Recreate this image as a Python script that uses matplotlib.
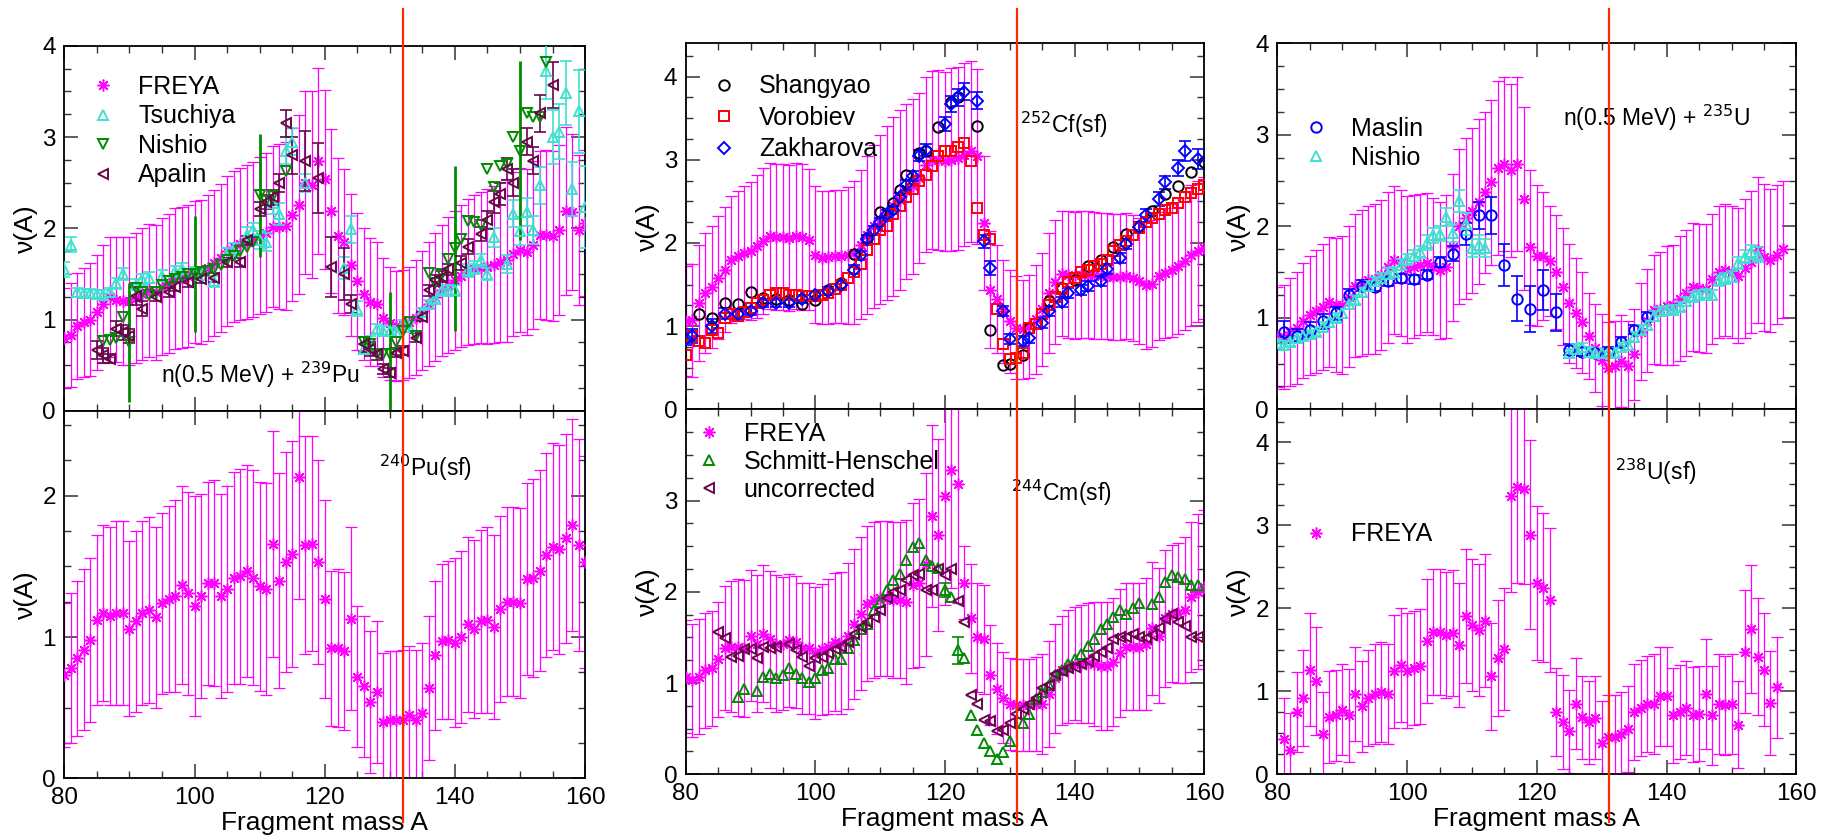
import numpy as np
import matplotlib
matplotlib.use("Agg")
import matplotlib.pyplot as plt
from matplotlib.ticker import MultipleLocator
from matplotlib.transforms import blended_transform_factory

plt.rcParams['font.family'] = ['Liberation Sans', 'DejaVu Sans']

# ---------------- data ----------------
# FREYA, n(0.5 MeV) + 239Pu
pu239_A = np.arange(80, 161)
pu239_freya = [0.80, 0.83, 0.93, 0.97, 1.00, 1.08, 1.17, 1.25, 1.22, 1.20,
               1.20, 1.24, 1.28, 1.32, 1.30, 1.36, 1.40, 1.45, 1.46, 1.48,
               1.52, 1.52, 1.57, 1.62, 1.68, 1.75, 1.80, 1.83, 1.85, 1.88,
               1.92, 1.95, 2.02, 2.02, 2.03, 2.15, 2.26, 2.50, 2.48, 2.74,
               2.54, 2.19, 1.92, 1.85, 1.60, 1.42, 1.28, 1.19, 1.17, 1.02,
               0.96, 0.93, 0.94, 0.97, 1.02, 1.10, 1.17, 1.25, 1.32, 1.38,
               1.43, 1.48, 1.52, 1.55, 1.57, 1.58, 1.60, 1.63, 1.65, 1.72,
               1.76, 1.74, 1.82, 1.93, 1.93, 1.92, 1.98, 2.19, 2.18, 1.98,
               2.06]
pu239_freya_err = [0.55, 0.57, 0.58, 0.60, 0.62, 0.63, 0.65, 0.66, 0.68, 0.70,
                   0.70, 0.71, 0.72, 0.73, 0.74, 0.75, 0.76, 0.77, 0.77, 0.78,
                   0.78, 0.79, 0.80, 0.80, 0.81, 0.82, 0.83, 0.83, 0.84, 0.85,
                   0.86, 0.87, 0.88, 0.90, 0.92, 0.95, 0.98, 1.00, 1.02, 1.02,
                   0.98, 0.90, 0.85, 0.80, 0.78, 0.75, 0.72, 0.70, 0.68, 0.65,
                   0.62, 0.60, 0.60, 0.61, 0.63, 0.65, 0.68, 0.70, 0.72, 0.74,
                   0.76, 0.78, 0.80, 0.82, 0.83, 0.85, 0.86, 0.88, 0.89, 0.90,
                   0.90, 0.91, 0.92, 0.92, 0.93, 0.93, 0.93, 0.92, 0.85, 0.82,
                   0.80]

tsuchiya_A = [80, 81, 82, 83, 84, 85, 86, 87, 88, 89, 91, 92, 93, 95, 97, 98,
              100, 101, 103, 105, 106, 108, 109, 110, 111, 112, 113, 114, 115,
              117, 123, 124, 125, 126, 127, 128, 129, 130, 131, 132, 133, 135,
              136, 137, 138, 139, 140, 142, 143, 144, 145, 146, 148, 149, 150,
              151, 152, 153, 154, 155, 156, 157, 158, 159, 160]
tsuchiya_v = [1.55, 1.82, 1.30, 1.29, 1.29, 1.28, 1.27, 1.30, 1.40, 1.50, 1.38,
              1.44, 1.46, 1.48, 1.53, 1.56, 1.52, 1.49, 1.42, 1.72, 1.77, 1.93,
              1.98, 1.87, 1.85, 2.28, 2.16, 2.85, 2.95, 2.50, 1.57, 1.99, 1.12,
              0.68, 0.77, 0.90, 0.88, 0.88, 0.86, 0.95, 0.92, 1.08, 1.17, 1.23,
              1.32, 1.32, 1.32, 1.54, 1.57, 1.65, 1.50, 1.90, 1.61, 2.16, 1.97,
              2.18, 1.98, 2.47, 3.72, 3.00, 3.06, 3.48, 2.43, 3.28, 2.23]
tsuchiya_e = [0.08, 0.08, 0.05, 0.05, 0.05, 0.05, 0.05, 0.05, 0.06, 0.07, 0.06,
              0.06, 0.06, 0.06, 0.06, 0.06, 0.06, 0.06, 0.06, 0.07, 0.07, 0.08,
              0.08, 0.10, 0.10, 0.12, 0.12, 0.15, 0.15, 0.10, 0.12, 0.15, 0.08,
              0.05, 0.05, 0.05, 0.05, 0.05, 0.05, 0.05, 0.05, 0.05, 0.05, 0.05,
              0.06, 0.06, 0.06, 0.07, 0.07, 0.07, 0.07, 0.10, 0.10, 0.15, 0.15,
              0.15, 0.15, 0.20, 0.30, 0.30, 0.30, 0.35, 0.30, 0.45, 0.45]

nishio_pu_A = [86, 87, 88, 89, 90, 91, 92, 93, 94, 95, 96, 97, 98, 99, 100,
               101, 102, 103, 104, 105, 106, 107, 108, 109, 110, 111, 112, 114,
               126, 127, 128, 129, 130, 131, 132, 133, 134, 136, 137, 138, 139,
               140, 141, 142, 143, 144, 145, 146, 147, 148, 149, 150, 151, 152,
               153, 154]
nishio_pu_v = [0.77, 0.78, 0.80, 1.03, 0.75, 1.35, 1.30, 1.27, 1.30, 1.38, 1.42,
               1.45, 1.47, 1.50, 1.50, 1.52, 1.53, 1.55, 1.60, 1.65, 1.70, 1.75,
               1.80, 1.85, 2.36, 2.30, 2.35, 2.63, 0.75, 0.73, 0.62, 0.62, 0.62,
               0.75, 0.88, 0.97, 0.82, 1.51, 1.40, 1.50, 1.66, 1.78, 1.88, 2.08,
               2.07, 2.04, 2.65, 2.45, 2.68, 2.71, 3.00, 2.85, 3.26, 3.22, 3.22,
               3.82]
nishio_pu_e = [0, 0, 0, 0, 0.65, 0, 0, 0, 0, 0, 0, 0, 0, 0, 0.63, 0, 0, 0, 0, 0,
               0, 0, 0, 0, 0.67, 0, 0, 0, 0, 0, 0, 0, 0.68, 0, 0, 0, 0, 0, 0, 0,
               0, 0.90, 0, 0, 0, 0, 0, 0, 0, 0, 0, 0.98, 0, 0, 0, 0]

apalin_A = [85, 86, 87, 88, 89, 90, 91, 92, 94, 96, 97, 99, 101, 103, 105, 107,
            108, 110, 111, 112, 113, 114, 115, 117, 119, 121, 123, 124, 126,
            127, 128, 129, 130, 131, 132, 134, 135, 136, 137, 138, 139, 141,
            142, 144, 145, 146, 147, 148, 149, 151, 152, 153, 155]
apalin_v = [0.67, 0.61, 0.57, 0.90, 0.86, 0.82, 1.26, 1.12, 1.25, 1.30, 1.36,
            1.41, 1.45, 1.46, 1.63, 1.63, 1.87, 2.21, 2.29, 2.34, 2.50, 3.15,
            2.80, 2.74, 2.55, 1.58, 1.50, 1.17, 0.73, 0.68, 0.62, 0.46, 0.42,
            0.64, 0.66, 0.80, 1.03, 1.32, 1.43, 1.47, 1.55, 1.62, 1.80, 1.94,
            2.09, 2.29, 2.38, 2.65, 2.50, 2.95, 2.74, 3.26, 3.57]
apalin_e = [0.10, 0.08, 0.05, 0.08, 0.08, 0.08, 0.10, 0.08, 0.05, 0.05, 0.05,
            0.05, 0.05, 0.05, 0.05, 0.05, 0.05, 0.08, 0.08, 0.08, 0.10, 0.15,
            0.20, 0.33, 0.38, 0.33, 0.28, 0.10, 0.08, 0.08, 0.06, 0.05, 0.05,
            0.05, 0.05, 0.05, 0.05, 0.06, 0.06, 0.06, 0.06, 0.08, 0.08, 0.08,
            0.10, 0.12, 0.12, 0.12, 0.15, 0.15, 0.15, 0.20, 0.25]

# FREYA, 240Pu(sf)
pu240_A = np.arange(80, 161)
pu240_freya = [0.73, 0.78, 0.85, 0.91, 0.98, 1.12, 1.17, 1.15, 1.17, 1.17,
               1.06, 1.11, 1.17, 1.19, 1.14, 1.24, 1.27, 1.29, 1.37, 1.31,
               1.22, 1.29, 1.38, 1.38, 1.29, 1.34, 1.42, 1.43, 1.47, 1.42,
               1.36, 1.34, 1.66, 1.40, 1.53, 1.59, 2.13, 1.65, 1.66, 1.53,
               1.27, 0.92, 0.92, 0.90, 1.13, 0.72, 0.65, 0.54, 0.61, 0.40,
               0.41, 0.41, 0.41, 0.45, 0.41, 0.46, 0.64, 0.87, 0.97, 0.98,
               0.96, 1.00, 1.09, 1.06, 1.11, 1.12, 1.07, 1.20, 1.25, 1.25,
               1.24, 1.41, 1.42, 1.47, 1.58, 1.64, 1.62, 1.70, 1.79, 1.65,
               1.53]
pu240_freya_err = [0.51, 0.53, 0.55, 0.57, 0.58, 0.60, 0.62, 0.63, 0.65, 0.65,
                   0.62, 0.64, 0.65, 0.66, 0.64, 0.64, 0.66, 0.68, 0.70, 0.72,
                   0.78, 0.72, 0.72, 0.73, 0.72, 0.73, 0.75, 0.76, 0.75, 0.76,
                   0.74, 0.75, 0.80, 0.76, 0.78, 0.80, 0.86, 0.77, 0.76, 0.72,
                   0.70, 0.55, 0.56, 0.56, 0.65, 0.50, 0.50, 0.50, 0.50, 0.49,
                   0.49, 0.49, 0.50, 0.49, 0.50, 0.50, 0.51, 0.53, 0.55, 0.56,
                   0.60, 0.61, 0.62, 0.63, 0.65, 0.66, 0.65, 0.66, 0.67, 0.67,
                   0.67, 0.68, 0.70, 0.71, 0.72, 0.73, 0.74, 0.74, 0.75, 0.75,
                   0.75]

# 252Cf(sf)
cf252_A = np.arange(80, 161)
cf252_freya = [1.06, 1.07, 1.28, 1.40, 1.47, 1.58, 1.68, 1.80, 1.84, 1.88,
               1.90, 1.96, 2.02, 2.08, 2.07, 2.07, 2.06, 2.08, 2.07, 2.04,
               1.86, 1.82, 1.83, 1.84, 1.84, 1.85, 1.88, 1.98, 2.10, 2.20,
               2.28, 2.36, 2.44, 2.52, 2.62, 2.68, 2.78, 2.94, 3.00, 3.00,
               2.98, 3.00, 3.02, 3.06, 3.10, 3.04, 2.24, 1.44, 1.33, 1.18,
               1.06, 0.98, 0.96, 1.00, 1.08, 1.20, 1.40, 1.53, 1.63, 1.62,
               1.61, 1.62, 1.62, 1.61, 1.60, 1.60, 1.59, 1.59, 1.60, 1.58,
               1.54, 1.49, 1.51, 1.60, 1.64, 1.67, 1.72, 1.78, 1.85, 1.90,
               1.94]
cf252_freya_err = [0.66, 0.68, 0.70, 0.72, 0.73, 0.74, 0.75, 0.76, 0.78, 0.80,
                   0.83, 0.86, 0.88, 0.88, 0.88, 0.88, 0.88, 0.88, 0.88, 0.85,
                   0.82, 0.80, 0.80, 0.80, 0.80, 0.82, 0.86, 0.90, 0.95, 0.98,
                   1.02, 1.05, 1.08, 1.08, 1.05, 1.05, 1.02, 1.05, 1.07, 1.08,
                   1.08, 1.10, 1.10, 1.10, 1.09, 1.05, 0.80, 0.70, 0.65, 0.62,
                   0.62, 0.62, 0.60, 0.62, 0.65, 0.68, 0.72, 0.74, 0.75, 0.76,
                   0.76, 0.76, 0.76, 0.76, 0.76, 0.76, 0.76, 0.76, 0.76, 0.76,
                   0.76, 0.76, 0.76, 0.77, 0.78, 0.80, 0.82, 0.83, 0.85, 0.85,
                   0.85]

shangyao_A = [82, 84, 86, 88, 90, 92, 94, 96, 98, 100, 102, 104, 106, 108, 110,
              112, 113, 114, 116, 117, 119, 121, 122, 125, 127, 129, 130, 132,
              133, 136, 138, 140, 142, 144, 146, 148, 150, 152, 154, 156, 158,
              160]
shangyao_v = [1.14, 1.10, 1.28, 1.26, 1.41, 1.34, 1.33, 1.32, 1.26, 1.32, 1.43,
              1.52, 1.87, 2.06, 2.37, 2.48, 2.64, 2.82, 3.08, 3.10, 3.39, 3.70,
              3.75, 3.41, 0.95, 0.53, 0.55, 0.65, 0.98, 1.30, 1.46, 1.56, 1.72,
              1.79, 1.95, 2.11, 2.20, 2.38, 2.59, 2.68, 2.85, 2.97]

vorobiev_A = np.arange(80, 161)
vorobiev_v = [0.65, 0.88, 0.82, 0.80, 0.95, 0.92, 1.10, 1.15, 1.12, 1.17,
              1.22, 1.28, 1.32, 1.38, 1.40, 1.40, 1.38, 1.37, 1.36, 1.36,
              1.36, 1.38, 1.40, 1.45, 1.50, 1.58, 1.65, 1.75, 1.92, 2.05,
              2.15, 2.20, 2.35, 2.45, 2.55, 2.65, 2.75, 2.82, 2.92, 3.05,
              3.10, 3.10, 3.15, 3.20, 2.98, 2.42, 2.10, 2.05, 1.20, 0.78,
              0.60, 0.62, 0.68, 0.98, 1.02, 1.15, 1.25, 1.35, 1.45, 1.53,
              1.58, 1.65, 1.68, 1.72, 1.75, 1.80, 1.90, 1.97, 2.02, 2.10,
              2.18, 2.25, 2.30, 2.35, 2.40, 2.42, 2.48, 2.55, 2.60, 2.65,
              2.70]

zakharova_A = [80, 81, 84, 86, 88, 90, 92, 94, 96, 98, 100, 102, 104, 106, 107,
               108, 109, 110, 111, 112, 113, 114, 115, 116, 117, 120, 121, 122,
               123, 125, 126, 127, 129, 130, 132, 133, 135, 136, 138, 139, 141,
               142, 144, 145, 147, 148, 150, 151, 153, 154, 156, 157, 159]
zakharova_v = [0.85, 0.88, 1.00, 1.15, 1.15, 1.18, 1.28, 1.28, 1.28, 1.33, 1.37,
               1.42, 1.50, 1.68, 1.85, 2.05, 2.15, 2.25, 2.35, 2.40, 2.55, 2.70,
               2.80, 3.05, 3.12, 3.43, 3.67, 3.75, 3.82, 3.71, 2.02, 1.70, 1.18,
               0.84, 0.82, 0.86, 1.04, 1.18, 1.29, 1.40, 1.44, 1.48, 1.54, 1.69,
               1.82, 1.99, 2.19, 2.33, 2.53, 2.73, 2.90, 3.10, 3.01]
zakharova_e = [0.08, 0.08, 0.08, 0.07, 0.06, 0.05, 0.05, 0.05, 0.05, 0.05, 0.05,
               0.05, 0.05, 0.05, 0.05, 0.05, 0.05, 0.05, 0.05, 0.05, 0.05, 0.06,
               0.06, 0.07, 0.07, 0.08, 0.10, 0.10, 0.10, 0.10, 0.08, 0.08, 0.06,
               0.06, 0.06, 0.06, 0.06, 0.06, 0.06, 0.06, 0.06, 0.06, 0.06, 0.06,
               0.06, 0.06, 0.06, 0.08, 0.08, 0.08, 0.10, 0.12, 0.12]

# 244Cm(sf)
cm244_A = np.arange(80, 161)
cm244_freya = [1.07, 1.03, 1.07, 1.14, 1.16, 1.26, 1.38, 1.40, 1.39, 1.38,
               1.52, 1.43, 1.54, 1.48, 1.43, 1.43, 1.47, 1.45, 1.38, 1.38,
               1.33, 1.37, 1.40, 1.45, 1.44, 1.52, 1.65, 1.76, 1.87, 1.91,
               1.93, 1.93, 1.91, 1.91, 1.89, 2.07, 2.10, 2.30, 2.83, 2.62,
               3.05, 3.34, 3.18, 2.10, 1.71, 1.50, 1.48, 1.09, 0.94, 0.84,
               0.77, 0.76, 0.76, 0.76, 0.77, 0.77, 0.88, 1.05, 1.14, 1.18,
               1.21, 1.21, 1.22, 1.21, 1.19, 1.19, 1.23, 1.33, 1.40, 1.40,
               1.40, 1.43, 1.60, 1.52, 1.71, 1.76, 1.77, 1.80, 1.94, 2.00,
               2.05]
cm244_freya_err = [0.62, 0.62, 0.63, 0.63, 0.63, 0.63, 0.68, 0.72, 0.75, 0.75,
                   0.72, 0.75, 0.75, 0.75, 0.75, 0.73, 0.73, 0.72, 0.72, 0.72,
                   0.72, 0.72, 0.74, 0.76, 0.78, 0.80, 0.82, 0.84, 0.85, 0.85,
                   0.85, 0.85, 0.85, 0.85, 0.90, 0.90, 0.92, 1.00, 1.00, 1.05,
                   1.20, 1.30, 1.30, 0.40, 0.60, 0.60, 0.60, 0.55, 0.50, 0.50,
                   0.50, 0.50, 0.50, 0.50, 0.52, 0.55, 0.58, 0.60, 0.60, 0.62,
                   0.62, 0.65, 0.66, 0.68, 0.70, 0.70, 0.70, 0.70, 0.70, 0.70,
                   0.70, 0.72, 0.73, 0.74, 0.75, 0.75, 0.77, 0.80, 0.82, 0.85,
                   0.85]

schmitt_A = [88, 89, 91, 92, 93, 94, 95, 96, 97, 98, 99, 100, 101, 102, 103, 104,
             105, 106, 107, 108, 109, 110, 111, 112, 113, 114, 115, 116, 117,
             118, 119, 120, 121, 122, 123, 124, 125, 126, 127, 128, 129, 130,
             132, 133, 134, 135, 136, 137, 138, 139, 140, 141, 142, 143, 144,
             145, 146, 147, 148, 149, 150, 152, 153, 154, 155, 156, 157, 158,
             159]
schmitt_v = [0.85, 0.94, 0.91, 1.07, 1.10, 1.05, 1.09, 1.17, 1.10, 1.05, 1.01,
             1.05, 1.14, 1.17, 1.26, 1.26, 1.38, 1.47, 1.59, 1.65, 1.80, 1.89,
             2.02, 2.13, 2.20, 2.35, 2.49, 2.54, 2.35, 2.28, 2.26, 2.02, 1.94,
             1.36, 1.27, 0.65, 0.49, 0.34, 0.26, 0.17, 0.24, 0.37, 0.56, 0.66,
             0.83, 0.90, 0.98, 1.09, 1.14, 1.21, 1.26, 1.32, 1.41, 1.48, 1.59,
             1.65, 1.72, 1.80, 1.76, 1.82, 1.88, 1.87, 1.94, 2.11, 2.18, 2.16,
             2.14, 2.08, 2.07]
schmitt_e = [0, 0, 0, 0, 0, 0, 0, 0, 0, 0, 0, 0, 0, 0, 0, 0, 0, 0, 0, 0, 0, 0,
             0, 0, 0, 0, 0, 0, 0, 0, 0, 0.08, 0, 0.15, 0, 0, 0, 0, 0, 0, 0, 0,
             0, 0, 0, 0, 0, 0, 0, 0, 0, 0, 0, 0, 0, 0, 0, 0, 0, 0, 0, 0, 0, 0,
             0, 0, 0, 0, 0]

uncorr_A = [85, 86, 87, 88, 89, 90, 91, 92, 93, 94, 96, 97, 98, 99, 100, 101,
            102, 103, 104, 105, 106, 107, 108, 109, 110, 111, 112, 113, 114,
            115, 116, 117, 118, 119, 120, 121, 122, 123, 124, 125, 126, 127,
            128, 129, 130, 131, 132, 133, 134, 135, 136, 137, 138, 139, 140,
            141, 142, 143, 144, 145, 146, 147, 148, 149, 150, 151, 152, 153,
            154, 155, 156, 157, 158, 159]
uncorr_v = [1.56, 1.49, 1.29, 1.30, 1.37, 1.37, 1.27, 1.39, 1.38, 1.39, 1.43,
            1.36, 1.29, 1.19, 1.27, 1.29, 1.33, 1.37, 1.39, 1.45, 1.54, 1.61,
            1.67, 1.72, 1.80, 1.93, 2.00, 2.02, 2.13, 2.18, 2.19, 2.02, 2.02,
            2.25, 2.18, 2.25, 1.90, 1.67, 0.87, 0.77, 0.59, 0.58, 0.48, 0.49,
            0.56, 0.66, 0.72, 0.77, 0.84, 0.95, 0.98, 1.10, 1.13, 1.17, 1.18,
            1.21, 1.24, 1.30, 1.34, 1.38, 1.48, 1.51, 1.51, 1.54, 1.50, 1.49,
            1.53, 1.60, 1.70, 1.76, 1.67, 1.62, 1.51, 1.50]

# n(0.5 MeV) + 235U
u235_A = np.arange(80, 159)
u235_freya = [0.79, 0.79, 0.85, 0.89, 0.97, 1.03, 1.07, 1.12, 1.17, 1.14,
              1.14, 1.23, 1.35, 1.38, 1.41, 1.42, 1.47, 1.55, 1.63, 1.60,
              1.53, 1.56, 1.58, 1.60, 1.56, 1.52, 1.56, 1.77, 2.00, 2.09,
              2.17, 2.27, 2.37, 2.48, 2.64, 2.68, 2.61, 2.68, 2.30, 1.77,
              1.68, 1.68, 1.62, 1.50, 1.34, 1.16, 1.05, 0.95, 0.80, 0.67,
              0.54, 0.45, 0.47, 0.53, 0.47, 0.60, 0.85, 0.97, 1.09, 1.10,
              1.13, 1.14, 1.21, 1.27, 1.34, 1.33, 1.32, 1.42, 1.50, 1.52,
              1.50, 1.46, 1.54, 1.61, 1.74, 1.66, 1.63, 1.69, 1.75]
u235_freya_err = [0.55, 0.57, 0.59, 0.61, 0.63, 0.65, 0.67, 0.69, 0.71, 0.73,
                  0.75, 0.77, 0.78, 0.80, 0.81, 0.82, 0.82, 0.82, 0.81, 0.80,
                  0.80, 0.78, 0.77, 0.76, 0.75, 0.75, 0.78, 0.80, 0.85, 0.88,
                  0.90, 0.90, 0.88, 0.90, 0.95, 0.95, 0.95, 0.95, 1.00, 0.85,
                  0.77, 0.70, 0.60, 0.62, 0.64, 0.65, 0.60, 0.55, 0.47, 0.48,
                  0.50, 0.50, 0.50, 0.50, 0.50, 0.50, 0.53, 0.56, 0.60, 0.62,
                  0.65, 0.66, 0.68, 0.69, 0.70, 0.70, 0.71, 0.71, 0.72, 0.72,
                  0.72, 0.74, 0.76, 0.78, 0.80, 0.80, 0.78, 0.76, 0.75]

maslin_A = [81, 83, 85, 87, 89, 91, 93, 95, 97, 99, 101, 103, 105, 107, 109, 111,
            113, 115, 117, 119, 121, 123, 125, 127, 129, 131, 133, 135, 137]
maslin_v = [0.85, 0.80, 0.87, 0.96, 1.05, 1.25, 1.35, 1.34, 1.40, 1.43, 1.42,
            1.47, 1.61, 1.70, 1.92, 2.12, 2.12, 1.58, 1.21, 1.10, 1.30, 1.06,
            0.65, 0.63, 0.61, 0.63, 0.74, 0.87, 1.01]
maslin_e = [0.12, 0.08, 0.08, 0.08, 0.07, 0.06, 0.06, 0.05, 0.05, 0.05, 0.05,
            0.05, 0.06, 0.08, 0.12, 0.15, 0.20, 0.23, 0.25, 0.25, 0.22, 0.20,
            0.06, 0.05, 0.05, 0.05, 0.05, 0.05, 0.05]

nishio_u_A = [80, 81, 82, 83, 84, 85, 86, 87, 88, 89, 90, 91, 92, 93, 94, 95, 96,
              97, 98, 99, 100, 101, 102, 103, 104, 105, 106, 107, 108, 109, 110,
              111, 112, 125, 126, 127, 128, 129, 130, 131, 132, 133, 134, 135,
              136, 137, 138, 139, 140, 141, 142, 143, 144, 145, 146, 147, 148,
              149, 150, 151, 152, 153, 154]
nishio_u_v = [0.72, 0.70, 0.74, 0.78, 0.80, 0.82, 0.85, 0.90, 0.95, 1.00, 1.05,
              1.15, 1.20, 1.28, 1.35, 1.40, 1.44, 1.48, 1.50, 1.58, 1.64, 1.68,
              1.72, 1.82, 1.90, 1.92, 2.10, 1.93, 2.28, 2.02, 1.76, 1.80, 1.76,
              0.61, 0.66, 0.68, 0.63, 0.61, 0.61, 0.61, 0.62, 0.68, 0.70, 0.79,
              0.87, 0.92, 1.02, 1.07, 1.08, 1.09, 1.12, 1.18, 1.23, 1.25, 1.27,
              1.25, 1.41, 1.43, 1.45, 1.60, 1.67, 1.72, 1.69]
nishio_u_e = [0.05, 0.05, 0.05, 0.05, 0.05, 0.05, 0.05, 0.05, 0.05, 0.05, 0.05,
              0.05, 0.05, 0.05, 0.05, 0.05, 0.05, 0.06, 0.06, 0.06, 0.06, 0.06,
              0.07, 0.08, 0.08, 0.08, 0.10, 0.10, 0.12, 0.12, 0.10, 0.10, 0.10,
              0.05, 0.05, 0.05, 0.05, 0.05, 0.05, 0.05, 0.05, 0.05, 0.05, 0.05,
              0.05, 0.05, 0.05, 0.05, 0.05, 0.05, 0.05, 0.05, 0.05, 0.05, 0.05,
              0.05, 0.06, 0.06, 0.06, 0.07, 0.07, 0.08, 0.08]

# 238U(sf)
u238_A = np.arange(81, 158)
u238_freya = [0.42, 0.29, 0.75, 0.92, 1.26, 1.12, 0.49, 0.69, 0.71, 0.78,
              0.71, 0.97, 0.82, 0.92, 0.97, 0.99, 0.97, 1.24, 1.32, 1.25,
              1.28, 1.30, 1.61, 1.71, 1.71, 1.68, 1.70, 1.56, 1.91, 1.80,
              1.74, 1.85, 1.18, 1.40, 1.51, 3.35, 3.46, 3.44, 2.89, 2.31,
              2.25, 2.10, 0.75, 0.63, 0.52, 0.85, 0.69, 0.63, 0.68, 0.38,
              0.45, 0.45, 0.49, 0.55, 0.75, 0.80, 0.85, 0.85, 0.94, 0.94,
              0.71, 0.75, 0.80, 0.72, 0.73, 0.97, 0.71, 0.85, 0.83, 0.85,
              0.60, 1.48, 1.75, 1.42, 1.26, 0.86, 1.05]
u238_freya_err = [0.50, 0.45, 0.48, 0.58, 0.68, 0.65, 0.50, 0.55, 0.55, 0.55,
                  0.56, 0.57, 0.55, 0.58, 0.60, 0.60, 0.60, 0.68, 0.69, 0.69,
                  0.69, 0.69, 0.75, 0.76, 0.76, 0.76, 0.76, 0.75, 0.81, 0.80,
                  0.80, 0.80, 0.64, 0.70, 0.73, 1.15, 1.15, 1.15, 1.14, 0.93,
                  0.90, 0.87, 0.53, 0.57, 0.50, 0.55, 0.50, 0.50, 0.50, 0.50,
                  0.50, 0.50, 0.50, 0.52, 0.58, 0.58, 0.58, 0.60, 0.60, 0.60,
                  0.57, 0.57, 0.57, 0.57, 0.57, 0.66, 0.60, 0.60, 0.60, 0.60,
                  0.53, 0.74, 0.77, 0.70, 0.68, 0.63, 0.61]

# A = 132 marker line for each column
red_line_A = [132.0, 131.1, 131.1]

# ---------------- style ----------------
MAGENTA = '#ff00ff'
TURQ = '#40e0d0'
GREEN = '#008b00'
MAROON = '#670748'
BLUE = '#0000ff'
RED = '#ff0000'
STAR = (8, 2, 0)

TICK_FS = 17.5
LAB_FS = 19
LEG_FS = 18
ANN_FS = 16.5


def style_axes(ax, ymax, xlabels, yticklabels=None):
    ax.set_xlim(80, 160)
    ax.set_ylim(0, ymax)
    ax.set_xticks([80, 100, 120, 140, 160])
    ax.xaxis.set_minor_locator(MultipleLocator(5))
    ax.yaxis.set_major_locator(MultipleLocator(1))
    ax.yaxis.set_minor_locator(MultipleLocator(0.25))
    if yticklabels is not None:
        ax.set_yticks(range(len(yticklabels)))
        ax.set_yticklabels(yticklabels)
    ax.tick_params(which='both', direction='in', top=True, right=True,
                   color='#333333')
    ax.tick_params(which='major', length=10, width=1.1, labelsize=TICK_FS, pad=6)
    ax.tick_params(which='minor', length=5, width=1.0)
    if not xlabels:
        ax.tick_params(axis='x', labelbottom=False)
    else:
        ax.set_xlabel('Fragment mass A', fontsize=LAB_FS, labelpad=2)
    for s in ax.spines.values():
        s.set_linewidth(1.3)
    ax.set_ylabel('ν(A)', fontsize=LAB_FS)
    ax.yaxis.set_label_coords(-0.05, 0.5)


def freya(ax, A, v, e, label=None):
    ax.errorbar(A, v, yerr=e, fmt='none', ecolor=MAGENTA, elinewidth=0.9,
                capsize=4, capthick=0.9, zorder=2)
    ax.plot(A, v, ls='none', marker=STAR, ms=8.5, mew=1.1, color=MAGENTA,
            label=label, zorder=3)


def exp(ax, A, v, e, marker, color, label, ms=7.5, cap=4, elw=1.2):
    A = np.asarray(A)
    v = np.asarray(v)
    if e is not None:
        e = np.asarray(e)
        m = e > 0
        ax.errorbar(A[m], v[m], yerr=e[m], fmt='none', ecolor=color,
                    elinewidth=elw, capsize=cap, capthick=1.2, zorder=4)
    ax.plot(A, v, ls='none', marker=marker, ms=ms, mew=1.4, mfc='none',
            mec=color, label=label, zorder=5)


def legend(ax, x, y, handles=None, labels=None, spacing=0.22):
    kw = dict(loc='upper left', bbox_to_anchor=(x, y), frameon=False,
              fontsize=LEG_FS, handlelength=1.0, handletextpad=0.9,
              labelspacing=spacing, borderpad=0, borderaxespad=0,
              numpoints=1)
    if handles is None:
        ax.legend(**kw)
    else:
        ax.legend(handles, labels, **kw)


fig = plt.figure(figsize=(18.29, 8.36), dpi=100)

ax1 = fig.add_axes([0.0352, 0.5084, 0.2847, 0.4369])
ax2 = fig.add_axes([0.0352, 0.0690, 0.2847, 0.4394])
ax3 = fig.add_axes([0.3749, 0.5104, 0.2835, 0.4378])
ax4 = fig.add_axes([0.3749, 0.0738, 0.2835, 0.4366])
ax5 = fig.add_axes([0.6984, 0.5104, 0.2838, 0.4378])
ax6 = fig.add_axes([0.6984, 0.0738, 0.2838, 0.4366])

# panel 1: n + 239Pu
freya(ax1, pu239_A, pu239_freya, pu239_freya_err, 'FREYA')
exp(ax1, tsuchiya_A, tsuchiya_v, tsuchiya_e, '^', TURQ, 'Tsuchiya')
exp(ax1, nishio_pu_A, nishio_pu_v, nishio_pu_e, 'v', GREEN, 'Nishio', cap=0, elw=2)
exp(ax1, apalin_A, apalin_v, apalin_e, '<', MAROON, 'Apalin')
style_axes(ax1, 4, False)
legend(ax1, 0.051, 0.92)
ax1.text(0.185, 0.10, 'n(0.5 MeV) + $^{239}$Pu', transform=ax1.transAxes,
         fontsize=ANN_FS, va='center', ha='left')

# panel 2: 240Pu(sf)
freya(ax2, pu240_A, pu240_freya, pu240_freya_err)
style_axes(ax2, 2.6, True)
ax2.text(0.605, 0.845, '$^{240}$Pu(sf)', transform=ax2.transAxes,
         fontsize=ANN_FS, va='center', ha='left')

# panel 3: 252Cf(sf)
freya(ax3, cf252_A, cf252_freya, cf252_freya_err)
exp(ax3, shangyao_A, shangyao_v, None, 'o', 'black', 'Shangyao')
exp(ax3, vorobiev_A, vorobiev_v, None, 's', RED, 'Vorobiev', ms=7)
exp(ax3, zakharova_A, zakharova_v, zakharova_e, 'D', BLUE, 'Zakharova', ms=6)
style_axes(ax3, 4.4, False)
h, l = ax3.get_legend_handles_labels()
names = ['Shangyao', 'Vorobiev', 'Zakharova']
legend(ax3, 0.05, 0.915, [h[l.index(n)] for n in names], names, spacing=0.3)
ax3.text(0.645, 0.777, '$^{252}$Cf(sf)', transform=ax3.transAxes,
         fontsize=ANN_FS, va='center', ha='left')

# panel 4: 244Cm(sf)
freya(ax4, cm244_A, cm244_freya, cm244_freya_err, 'FREYA')
exp(ax4, schmitt_A, schmitt_v, schmitt_e, '^', GREEN, 'Schmitt-Henschel')
exp(ax4, uncorr_A, uncorr_v, None, '<', MAROON, 'uncorrected')
style_axes(ax4, 4.0, True, ['0', '1', '2', '3', ''])
legend(ax4, 0.02, 0.965, spacing=0.15)
ax4.text(0.627, 0.77, '$^{244}$Cm(sf)', transform=ax4.transAxes,
         fontsize=ANN_FS, va='center', ha='left')

# panel 5: n + 235U
freya(ax5, u235_A, u235_freya, u235_freya_err)
exp(ax5, maslin_A, maslin_v, maslin_e, 'o', BLUE, 'Maslin')
exp(ax5, nishio_u_A, nishio_u_v, nishio_u_e, '^', TURQ, 'Nishio')
style_axes(ax5, 4.0, False)
legend(ax5, 0.05, 0.80)
ax5.text(0.55, 0.796, 'n(0.5 MeV) + $^{235}$U', transform=ax5.transAxes,
         fontsize=ANN_FS, va='center', ha='left')

# panel 6: 238U(sf)
freya(ax6, u238_A, u238_freya, u238_freya_err, 'FREYA')
style_axes(ax6, 4.4, True)
legend(ax6, 0.05, 0.69)
ax6.text(0.65, 0.828, '$^{238}$U(sf)', transform=ax6.transAxes,
         fontsize=ANN_FS, va='center', ha='left')

# vertical A=132 lines spanning both rows of each column
for ax, a in zip([ax2, ax4, ax6], red_line_A):
    tr = blended_transform_factory(ax.transData, fig.transFigure)
    ax.plot([a, a], [0.017, 0.989], transform=tr, color='#ff2a00', lw=1.6,
            clip_on=False, zorder=10)

fig.savefig('out.png', dpi=100)
